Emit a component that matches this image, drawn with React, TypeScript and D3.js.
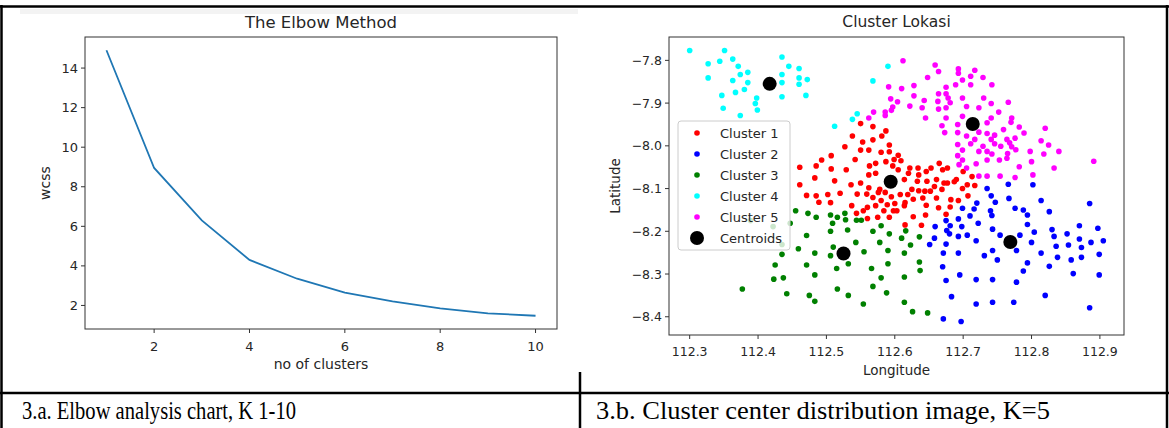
import React from 'react';
import * as d3 from 'd3';

// elbow chart values
const kValues = [1, 2, 3, 4, 5, 6, 7, 8, 9, 10];
const wcssValues = [14.9, 8.95, 6.3, 4.3, 3.35, 2.65, 2.2, 1.85, 1.6, 1.48];
const elbowTicksX = [2, 4, 6, 8, 10];
const elbowTicksY = [2, 4, 6, 8, 10, 12, 14];

// cluster scatter values: [longitude, latitude]
const cluster1 = [
  [112.550, -7.948], [112.568, -7.955], [112.538, -7.977], [112.553, -7.991], [112.568, -7.986],
  [112.581, -7.977], [112.587, -7.965], [112.527, -8.002], [112.550, -8.010], [112.562, -8.010],
  [112.592, -7.998], [112.592, -8.014], [112.580, -8.015], [112.605, -8.022], [112.507, -8.023],
  [112.493, -8.033], [112.485, -8.047], [112.461, -8.050], [112.507, -8.054], [112.529, -8.056],
  [112.542, -8.032], [112.563, -8.047], [112.572, -8.041], [112.587, -8.037], [112.599, -8.032],
  [112.609, -8.035], [112.622, -8.052], [112.634, -8.052], [112.620, -8.064], [112.635, -8.068],
  [112.646, -8.060], [112.653, -8.052], [112.665, -8.041], [112.670, -8.056], [112.677, -8.052],
  [112.700, -8.060], [112.713, -8.072], [112.706, -8.091], [112.690, -8.079], [112.677, -8.087],
  [112.661, -8.079], [112.658, -8.095], [112.647, -8.083], [112.644, -8.106], [112.633, -8.083],
  [112.625, -8.102], [112.614, -8.079], [112.608, -8.114], [112.605, -8.056], [112.597, -8.047],
  [112.572, -8.064], [112.562, -8.068], [112.550, -8.087], [112.536, -8.091], [112.512, -8.082],
  [112.483, -8.075], [112.461, -8.091], [112.471, -8.116], [112.485, -8.117], [112.489, -8.132],
  [112.502, -8.114], [112.520, -8.111], [112.506, -8.133], [112.545, -8.113], [112.559, -8.113],
  [112.568, -8.121], [112.576, -8.109], [112.586, -8.109], [112.580, -8.128], [112.572, -8.140],
  [112.560, -8.144], [112.554, -8.152], [112.537, -8.140], [112.544, -8.158], [112.560, -8.170],
  [112.575, -8.167], [112.584, -8.152], [112.592, -8.167], [112.598, -8.152], [112.600, -8.135],
  [112.595, -8.119], [112.589, -8.138], [112.562, -8.098], [112.578, -8.102], [112.615, -8.133],
  [112.627, -8.125], [112.619, -8.114], [112.635, -8.105], [112.641, -8.122], [112.652, -8.106],
  [112.661, -8.122], [112.669, -8.102], [112.672, -8.087], [112.646, -8.139], [112.627, -8.166],
  [112.615, -8.185], [112.639, -8.186], [112.645, -8.162], [112.664, -8.145], [112.675, -8.160],
  [112.681, -8.143], [112.682, -8.126], [112.699, -8.100], [112.693, -8.128], [112.707, -8.117],
  [112.717, -8.093], [112.687, -8.084], [112.603, -8.152], [112.614, -8.140],
];

const cluster2 = [
  [112.735, -8.100], [112.741, -8.117], [112.747, -8.132], [112.766, -8.090], [112.767, -8.123],
  [112.720, -8.134], [112.716, -8.148], [112.710, -8.164], [112.722, -8.181], [112.699, -8.146],
  [112.693, -8.171], [112.698, -8.189], [112.706, -8.209], [112.693, -8.212], [112.675, -8.175],
  [112.681, -8.187], [112.676, -8.198], [112.680, -8.206], [112.659, -8.189], [112.658, -8.216],
  [112.651, -8.231], [112.675, -8.230], [112.671, -8.251], [112.693, -8.251], [112.719, -8.222],
  [112.743, -8.195], [112.740, -8.152], [112.742, -8.163], [112.754, -8.209], [112.731, -8.257],
  [112.743, -8.245], [112.750, -8.267], [112.670, -8.283], [112.675, -8.315], [112.695, -8.302],
  [112.719, -8.313], [112.743, -8.313], [112.683, -8.353], [112.719, -8.370], [112.743, -8.366],
  [112.671, -8.405], [112.697, -8.411], [112.802, -8.091], [112.814, -8.128], [112.885, -8.135],
  [112.776, -8.146], [112.788, -8.150], [112.794, -8.162], [112.826, -8.154], [112.794, -8.184],
  [112.783, -8.209], [112.804, -8.202], [112.800, -8.226], [112.830, -8.196], [112.833, -8.212],
  [112.852, -8.206], [112.870, -8.187], [112.870, -8.218], [112.897, -8.193], [112.887, -8.226],
  [112.905, -8.222], [112.836, -8.235], [112.854, -8.232], [112.873, -8.238], [112.814, -8.251],
  [112.838, -8.261], [112.858, -8.267], [112.873, -8.261], [112.899, -8.254], [112.778, -8.245],
  [112.794, -8.274], [112.826, -8.282], [112.788, -8.293], [112.861, -8.299], [112.899, -8.302],
  [112.778, -8.319], [112.820, -8.350], [112.774, -8.366], [112.885, -8.379],
];

const cluster3 = [
  [112.455, -8.152], [112.473, -8.158], [112.485, -8.167], [112.506, -8.162], [112.516, -8.167],
  [112.527, -8.158], [112.528, -8.173], [112.544, -8.174], [112.551, -8.174], [112.509, -8.181],
  [112.506, -8.200], [112.531, -8.197], [112.471, -8.210], [112.543, -8.226], [112.459, -8.241],
  [112.435, -8.254], [112.483, -8.251], [112.506, -8.257], [112.510, -8.237], [112.555, -8.248],
  [112.568, -8.200], [112.580, -8.187], [112.592, -8.206], [112.578, -8.226], [112.590, -8.245],
  [112.590, -8.276], [112.566, -8.287], [112.580, -8.309], [112.568, -8.329], [112.588, -8.344],
  [112.554, -8.370], [112.532, -8.350], [112.516, -8.335], [112.532, -8.276], [112.515, -8.287],
  [112.471, -8.279], [112.483, -8.302], [112.425, -8.279], [112.423, -8.312], [112.437, -8.309],
  [112.442, -8.346], [112.475, -8.350], [112.483, -8.364], [112.377, -8.335], [112.422, -8.189],
  [112.435, -8.231], [112.447, -8.181], [112.389, -8.175], [112.616, -8.199], [112.610, -8.216],
  [112.636, -8.213], [112.623, -8.232], [112.614, -8.251], [112.636, -8.272], [112.637, -8.292],
  [112.614, -8.307], [112.614, -8.366], [112.626, -8.388], [112.648, -8.391],
];

const cluster4 = [
  [112.300, -7.777], [112.327, -7.808], [112.327, -7.841], [112.344, -7.802], [112.351, -7.777],
  [112.363, -7.797], [112.371, -7.814], [112.374, -7.833], [112.385, -7.828], [112.363, -7.847],
  [112.385, -7.852], [112.380, -7.868], [112.367, -7.875], [112.347, -7.882], [112.349, -7.912],
  [112.374, -7.929], [112.398, -7.888], [112.396, -7.901], [112.399, -7.916], [112.435, -7.792],
  [112.445, -7.814], [112.435, -7.833], [112.435, -7.852], [112.435, -7.885], [112.460, -7.819],
  [112.460, -7.841], [112.460, -7.856], [112.472, -7.845], [112.470, -7.882], [112.512, -7.954],
  [112.538, -7.938], [112.545, -7.925], [112.568, -7.848], [112.590, -7.814],
];

const cluster5 = [
  [112.659, -7.811], [112.664, -7.826], [112.648, -7.840], [112.693, -7.820], [112.693, -7.830],
  [112.717, -7.823], [112.711, -7.837], [112.699, -7.846], [112.689, -7.857], [112.711, -7.857],
  [112.729, -7.840], [112.742, -7.857], [112.628, -7.859], [112.628, -7.883], [112.675, -7.863],
  [112.664, -7.878], [112.675, -7.878], [112.678, -7.888], [112.681, -7.899], [112.663, -7.896],
  [112.643, -7.894], [112.640, -7.911], [112.664, -7.914], [112.675, -7.911], [112.699, -7.888],
  [112.705, -7.908], [112.723, -7.911], [112.730, -7.888], [112.741, -7.901], [112.766, -7.898],
  [112.752, -7.921], [112.741, -7.935], [112.735, -7.946], [112.699, -7.931], [112.645, -7.935],
  [112.675, -7.935], [112.669, -7.953], [112.673, -7.969], [112.692, -7.950], [112.692, -7.969],
  [112.705, -7.977], [112.723, -7.968], [112.735, -7.971], [112.746, -7.975], [112.741, -7.985],
  [112.755, -8.001], [112.759, -7.962], [112.771, -7.935], [112.770, -7.945], [112.782, -7.956],
  [112.789, -7.970], [112.776, -7.982], [112.764, -7.985], [112.768, -7.993], [112.771, -8.002],
  [112.777, -8.009], [112.717, -7.985], [112.711, -7.995], [112.729, -8.001], [112.723, -8.013],
  [112.735, -8.013], [112.746, -7.995], [112.742, -8.019], [112.692, -7.997], [112.699, -8.010],
  [112.692, -8.023], [112.699, -8.033], [112.694, -8.044], [112.705, -8.052], [112.719, -8.042],
  [112.735, -8.033], [112.753, -8.033], [112.765, -8.018], [112.764, -8.029], [112.782, -8.049],
  [112.798, -8.013], [112.800, -8.037], [112.818, -8.019], [112.825, -7.998], [112.814, -7.988],
  [112.820, -7.959], [112.840, -8.013], [112.833, -8.052], [112.735, -8.071], [112.723, -8.071],
  [112.754, -8.071], [112.776, -8.074], [112.802, -8.068], [112.612, -7.801], [112.610, -7.866],
  [112.591, -7.862], [112.594, -7.890], [112.604, -7.897], [112.597, -7.909], [112.595, -7.917],
  [112.586, -7.921], [112.586, -7.929], [112.622, -7.907], [112.569, -7.921], [112.562, -7.935],
  [112.891, -8.036],
];

const clusters = [cluster1, cluster2, cluster3, cluster4, cluster5];
const clusterNames = ['Cluster 1', 'Cluster 2', 'Cluster 3', 'Cluster 4', 'Cluster 5'];
const clusterColors = ['red', 'blue', 'green', 'cyan', 'magenta'];
const centroids = [
  [112.594, -8.084], [112.769, -8.225], [112.525, -8.252], [112.417, -7.855], [112.714, -7.949],
];
const lonTicks = [112.3, 112.4, 112.5, 112.6, 112.7, 112.8, 112.9];
const latTicks = [-7.8, -7.9, -8.0, -8.1, -8.2, -8.3, -8.4];

const mplFont = '"DejaVu Sans", sans-serif';
const textColor = '#262626';
const spine = '#333';

// matplotlib style 5% margins
const pad = (ext: number[]) => {
  const m = (ext[1] - ext[0]) * 0.05;
  return [ext[0] - m, ext[1] + m];
};

const ElbowChart = () => {
  const left = 85, right = 557, top = 37, bottom = 329;
  const x = d3.scaleLinear().domain(pad(d3.extent(kValues) as number[])).range([left, right]);
  const y = d3.scaleLinear().domain(pad(d3.extent(wcssValues) as number[])).range([bottom, top]);
  const line = d3.line<number>().x((d, i) => x(kValues[i])).y(d => y(d));

  return (
    <g fontFamily={mplFont}>
      <text x={(left + right) / 2} y={22} textAnchor="middle" dominantBaseline="central" fontSize={16.5} fill={textColor}>
        The Elbow Method
      </text>
      <path d={line(wcssValues) || ''} fill="none" stroke="#1f77b4" strokeWidth={1.8} />
      <rect x={left} y={top} width={right - left} height={bottom - top} fill="none" stroke={spine} strokeWidth={1} />
      {elbowTicksX.map(t => (
        <g key={'x' + t}>
          <line x1={x(t)} x2={x(t)} y1={bottom} y2={bottom + 4} stroke={spine} />
          <text x={x(t)} y={bottom + 17} textAnchor="middle" dominantBaseline="central" fontSize={13} fill={textColor}>{t}</text>
        </g>
      ))}
      {elbowTicksY.map(t => (
        <g key={'y' + t}>
          <line x1={left - 4} x2={left} y1={y(t)} y2={y(t)} stroke={spine} />
          <text x={left - 7} y={y(t)} textAnchor="end" dominantBaseline="central" fontSize={13} fill={textColor}>{t}</text>
        </g>
      ))}
      <text x={(left + right) / 2} y={bottom + 35} textAnchor="middle" dominantBaseline="central" fontSize={14} fill={textColor}>
        no of clusters
      </text>
      <text transform={`translate(45,${(top + bottom) / 2}) rotate(-90)`} textAnchor="middle" dominantBaseline="central" fontSize={14} fill={textColor}>
        wcss
      </text>
    </g>
  );
};

const ClusterChart = () => {
  const left = 669, right = 1124, top = 37, bottom = 335;
  const all = [...clusters.flat(), ...centroids];
  const x = d3.scaleLinear().domain(pad(d3.extent(all, d => d[0]) as number[])).range([left, right]);
  const y = d3.scaleLinear().domain(pad(d3.extent(all, d => d[1]) as number[])).range([bottom, top]);
  const fmt = d3.format('.1f');

  const legX = 678, legY = 121, legRow = 21;

  return (
    <g fontFamily={mplFont}>
      <text x={(left + right) / 2} y={22} textAnchor="middle" dominantBaseline="central" fontSize={15.5} fill={textColor}>
        Cluster Lokasi
      </text>
      {clusters.map((pts, ci) => (
        <g key={ci} fill={clusterColors[ci]}>
          {pts.map((p, i) => (
            <circle key={i} cx={x(p[0])} cy={y(p[1])} r={2.8} />
          ))}
        </g>
      ))}
      {centroids.map((p, i) => (
        <circle key={'c' + i} cx={x(p[0])} cy={y(p[1])} r={7} fill="black" />
      ))}
      <rect x={left} y={top} width={right - left} height={bottom - top} fill="none" stroke={spine} strokeWidth={1} />
      {lonTicks.map(t => (
        <g key={'x' + t}>
          <line x1={x(t)} x2={x(t)} y1={bottom} y2={bottom + 4} stroke={spine} />
          <text x={x(t)} y={bottom + 16} textAnchor="middle" dominantBaseline="central" fontSize={12.5} fill={textColor}>{fmt(t)}</text>
        </g>
      ))}
      {latTicks.map(t => (
        <g key={'y' + t}>
          <line x1={left - 4} x2={left} y1={y(t)} y2={y(t)} stroke={spine} />
          <text x={left - 7} y={y(t)} textAnchor="end" dominantBaseline="central" fontSize={12.5} fill={textColor}>{fmt(t)}</text>
        </g>
      ))}
      <text x={(left + right) / 2} y={bottom + 35} textAnchor="middle" dominantBaseline="central" fontSize={13.5} fill={textColor}>
        Longitude
      </text>
      <text transform={`translate(615,${(top + bottom) / 2}) rotate(-90)`} textAnchor="middle" dominantBaseline="central" fontSize={13.5} fill={textColor}>
        Latitude
      </text>

      {/* legend */}
      <rect x={legX} y={legY} width={112} height={129} rx={3} fill="white" fillOpacity={0.8} stroke="#cccccc" />
      {clusterNames.map((name, i) => (
        <g key={name}>
          <circle cx={legX + 19} cy={legY + 12 + i * legRow} r={2.8} fill={clusterColors[i]} />
          <text x={legX + 42} y={legY + 12 + i * legRow} dominantBaseline="central" fontSize={13} fill={textColor}>{name}</text>
        </g>
      ))}
      <circle cx={legX + 19} cy={legY + 12 + 5 * legRow} r={7} fill="black" />
      <text x={legX + 42} y={legY + 12 + 5 * legRow} dominantBaseline="central" fontSize={13} fill={textColor}>Centroids</text>
    </g>
  );
};

const App = () => {
  const W = 1169, H = 428;
  return (
    <svg width={W} height={H} style={{ position: 'absolute', left: 0, top: 0, background: 'white' }}>
      <rect x={0} y={0} width={W} height={H} fill="white" />
      <rect x={20} y={9} width={558} height={5} fill="#f3f3f3" />
      <ElbowChart />
      <ClusterChart />
      {/* table borders */}
      <g stroke="black" strokeWidth={2.5}>
        <line x1={0} x2={W} y1={6.5} y2={6.5} />
        <line x1={1.5} x2={1.5} y1={5} y2={H} />
        <line x1={W - 2} x2={W - 2} y1={5} y2={H} />
        <line x1={0} x2={W} y1={393} y2={393} />
        <line x1={580} x2={580} y1={372} y2={H} />
      </g>
      <g fontFamily='"Liberation Serif", "Times New Roman", serif' fontSize={25} fill="black">
        <text x={22} y={419} textLength={274} lengthAdjust="spacingAndGlyphs">3.a. Elbow analysis chart, K 1-10</text>
        <text x={596} y={419} textLength={454} lengthAdjust="spacingAndGlyphs">3.b. Cluster center distribution image, K=5</text>
      </g>
    </svg>
  );
};

export default App;
